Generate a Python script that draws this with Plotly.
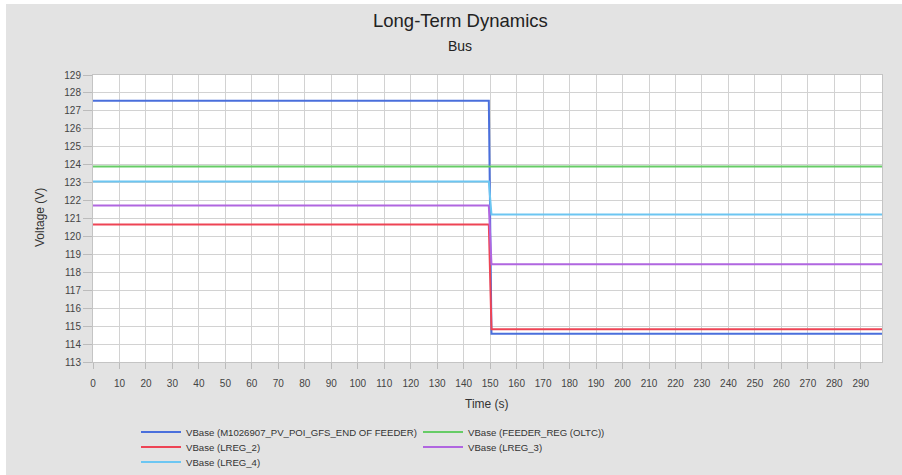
import plotly.graph_objects as go

# Simulation time (s) and bus voltages (V) around the regulator event at ~150 s
time_s = [0, 149.5, 150.5, 298]

v_end_of_feeder = [127.57, 127.57, 114.58, 114.58]
v_feeder_reg = [123.9, 123.9, 123.9, 123.9]
v_lreg_2 = [120.67, 120.67, 114.82, 114.82]
v_lreg_3 = [121.72, 121.72, 118.45, 118.45]
v_lreg_4 = [123.06, 123.06, 121.22, 121.22]

series_names = [
    "VBase (M1026907_PV_POI_GFS_END OF FEEDER)",
    "VBase (FEEDER_REG (OLTC))",
    "VBase (LREG_2)",
    "VBase (LREG_3)",
    "VBase (LREG_4)",
]
series_values = [v_end_of_feeder, v_feeder_reg, v_lreg_2, v_lreg_3, v_lreg_4]
series_colors = ["#4a6fdc", "#66cc66", "#ee4455", "#b066e0", "#6cc6f2"]
series_legends = ["legend", "legend", "legend2", "legend2", "legend3"]

x_ticks = list(range(0, 300, 10))
y_ticks = list(range(113, 130))

FONT = "Liberation Sans, Arial, sans-serif"
BG = "#e3e3e3"
GRID = "#d2d2d2"

W, H = 902, 475
ML, MR, MT, MB = 93, 20, 75, 113
PW, PH = W - ML - MR, H - MT - MB


def px_x(px):
    return (px - ML) / PW


def px_y(py):
    return (H - MB - py) / PH


fig = go.Figure()
for name, vals, col, lg in zip(series_names, series_values, series_colors, series_legends):
    fig.add_trace(go.Scatter(
        x=time_s, y=vals, mode="lines", name=name,
        line=dict(color=col, width=2), legend=lg,
    ))

legend_common = dict(
    orientation="h", xanchor="left", yanchor="middle",
    font=dict(family=FONT, size=9.6, color="#333333"),
    bgcolor="rgba(0,0,0,0)", itemwidth=40,
    entrywidthmode="pixels", entrywidth=227,
    tracegroupgap=0, itemclick=False,
)

fig.update_layout(
    width=W, height=H,
    margin=dict(l=ML, r=MR, t=MT, b=MB, autoexpand=False),
    paper_bgcolor=BG, plot_bgcolor="white",
    font=dict(family=FONT, size=10, color="#444444"),
    showlegend=True,
    legend=dict(x=px_x(136), y=px_y(432), **legend_common),
    legend2=dict(x=px_x(136), y=px_y(447), **legend_common),
    legend3=dict(x=px_x(136), y=px_y(462), **legend_common),
    xaxis=dict(
        range=[0, 298], tickmode="array", tickvals=x_ticks,
        showgrid=True, gridcolor=GRID, gridwidth=1,
        ticks="outside", ticklen=6, tickcolor="#bbbbbb",
        showline=True, linecolor="#c4c4c4", mirror=True,
        zeroline=False, ticklabelstandoff=6,
        tickfont=dict(family=FONT, size=10, color="#444444"),
    ),
    yaxis=dict(
        range=[113, 129], tickmode="array", tickvals=y_ticks,
        showgrid=True, gridcolor=GRID, gridwidth=1,
        ticks="outside", ticklen=9, tickcolor="#bbbbbb",
        showline=True, linecolor="#c4c4c4", mirror=True,
        zeroline=False,
        tickfont=dict(family=FONT, size=10, color="#444444"),
    ),
    annotations=[
        dict(text="Long-Term Dynamics", x=px_x(460), y=px_y(20), xref="paper", yref="paper",
             showarrow=False, xanchor="center", yanchor="middle",
             font=dict(family=FONT, size=18.5, color="#222222")),
        dict(text="Bus", x=px_x(460), y=px_y(46), xref="paper", yref="paper",
             showarrow=False, xanchor="center", yanchor="middle",
             font=dict(family=FONT, size=14, color="#222222")),
        dict(text="Voltage (V)", x=px_x(40), y=px_y(218), xref="paper", yref="paper",
             showarrow=False, xanchor="center", yanchor="middle", textangle=-90,
             font=dict(family=FONT, size=12, color="#333333")),
        dict(text="Time (s)", x=px_x(487), y=px_y(404), xref="paper", yref="paper",
             showarrow=False, xanchor="center", yanchor="middle",
             font=dict(family=FONT, size=12, color="#333333")),
    ],
    shapes=[
        # white frame strips on the left and top edges of the canvas
        dict(type="rect", xref="paper", yref="paper", layer="below",
             x0=px_x(0), x1=px_x(6), y0=px_y(H), y1=px_y(0),
             fillcolor="white", line=dict(width=0)),
        dict(type="rect", xref="paper", yref="paper", layer="below",
             x0=px_x(0), x1=px_x(W), y0=px_y(4), y1=px_y(0),
             fillcolor="white", line=dict(width=0)),
    ],
)

fig.write_html("out.html")
